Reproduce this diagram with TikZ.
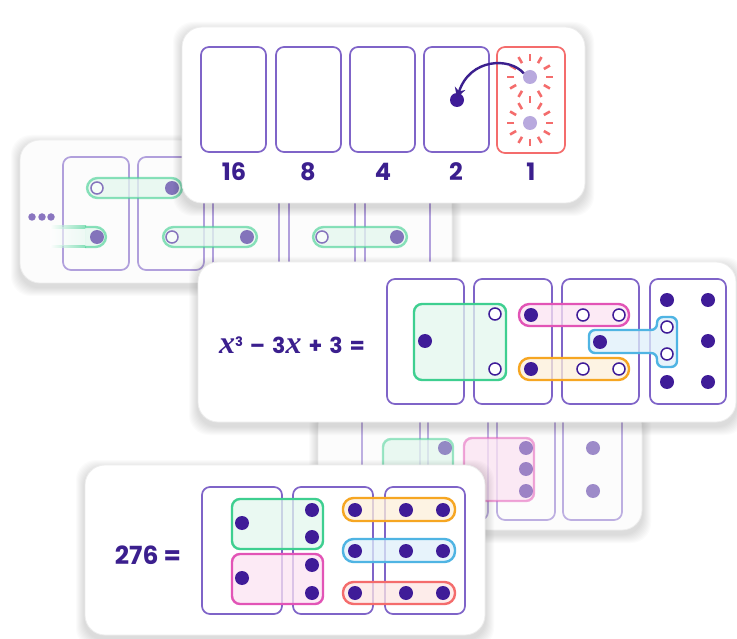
\documentclass[tikz,border=0pt]{standalone}
\usepackage{fontspec}
\setmainfont{Poppins}
\newfontfamily\xfont{Liberation Serif}
\usetikzlibrary{arrows.meta}
\definecolor{dpur}{HTML}{3F1C98}
\definecolor{bpur}{HTML}{7F64C8}
\definecolor{tpur}{HTML}{3B1F8E}
\definecolor{gbord}{HTML}{3ECF90}
\definecolor{gfill}{HTML}{E3F7EE}
\definecolor{pbord}{HTML}{E254B6}
\definecolor{pfill}{HTML}{FBE3F2}
\definecolor{obord}{HTML}{F6A622}
\definecolor{ofill}{HTML}{FDF0DA}
\definecolor{bbord}{HTML}{4FB4E3}
\definecolor{bfill}{HTML}{E0F0FA}
\definecolor{rbord}{HTML}{F46C6C}
\definecolor{rfill}{HTML}{FDE6E3}
\definecolor{ldot}{HTML}{B8A9DE}
\newcommand\cardshadow[4]{%
  \foreach \s in {1,...,9}{\fill[black,opacity=0.015,rounded corners=20pt] (#1-\s,#2-\s+4) rectangle (#3+\s,#4+\s+4);}}
\newcommand\xvar{{\xfont\fontsize{32}{32}\selectfont\bfseries\itshape x}}
\begin{document}
\begin{tikzpicture}[x=1pt,y=-1pt,
  card/.style={fill=white, draw=black!7, line width=0.8pt, rounded corners=20pt},
  box/.style={draw=bpur, line width=1.7pt, rounded corners=8pt},
  dot/.style={circle, fill=dpur, inner sep=0pt, minimum size=14pt},
  odot/.style={circle, draw=dpur, fill=white, line width=1.5pt, inner sep=0pt, minimum size=12pt},
  ldotst/.style={circle, fill=ldot, inner sep=0pt, minimum size=14pt},
  pill/.style={line width=2.4pt, rounded corners=10.5pt, fill opacity=0.75},
  grp/.style={line width=2.4pt, rounded corners=8pt, fill opacity=0.75},
  lbl/.style={text=tpur, font=\fontsize{24}{24}\selectfont\bfseries, inner sep=0pt},
  spark/.style={draw=rbord, line width=2.6pt},
  arr/.style={draw=tpur, line width=2.4pt, -{Stealth[length=10pt,width=11pt]}}
]
\useasboundingbox (0,0) rectangle (737,639);

% ---------------- card 2 (left, faded) ----------------
\cardshadow{20}{140}{452}{283}
\path[card, fill=black!1] (20,140) rectangle (452,283);
\begin{scope}[opacity=0.6]
  \foreach \a/\b in {63/129,138/204,213/279,289/355,365/430}
    \draw[box] (\a,157) rectangle (\b,270);
  \draw[pill, draw=gbord, fill=gfill] (87,178) rectangle (182,198);
  \draw[pill, draw=gbord, fill=gfill] (163,227) rectangle (257,247);
  \draw[pill, draw=gbord, fill=gfill] (313,227) rectangle (407,247);
  \shade[left color=white, right color=gfill] (50,228) rectangle (86,246);
  \shade[left color=white, right color=gbord] (50,226) rectangle (86,228.5);
  \shade[left color=white, right color=gbord] (50,245.5) rectangle (86,248);
  \begin{scope}
    \clip (85,215) rectangle (120,260);
    \draw[pill, draw=gbord, fill=gfill] (60,227) rectangle (106,247);
  \end{scope}
  \node[odot] (c2o1) at (97,188) {};
  \node[dot] (c2d1) at (172,188) {};
  \node[dot] (c2d2) at (97,237) {};
  \node[odot] (c2o2) at (172,237) {};
  \node[dot] (c2d3) at (247,237) {};
  \node[odot] (c2o3) at (322,237) {};
  \node[dot] (c2d4) at (397,237) {};
  \foreach \x [count=\i] in {32,42,51}
    \node[circle, fill=dpur, inner sep=0pt, minimum size=7.5pt] (ell\i) at (\x,217) {};
\end{scope}

% ---------------- card 4 (middle, faded) ----------------
\cardshadow{318}{405}{642}{530}
\path[card, fill=black!1] (318,405) rectangle (642,530);
\begin{scope}[opacity=0.5]
  \foreach \a/\b in {362/420,428/488,497/555,563/622}
    \draw[box] (\a,412) rectangle (\b,520);
  \draw[grp, draw=gbord, fill=gfill] (383,439) rectangle (453,500);
  \draw[grp, draw=pbord, fill=pfill] (464,438) rectangle (534,501);
  \node[dot] (c4d1) at (445,448) {};
  \node[dot] (c4d2) at (526,448) {};
  \node[dot] (c4d3) at (526,469) {};
  \node[dot] (c4d4) at (526,491) {};
  \node[dot] (c4d5) at (593,448) {};
  \node[dot] (c4d6) at (593,491) {};
\end{scope}

% ---------------- card 1 (top) ----------------
\cardshadow{182}{27}{585}{203}
\path[card] (182,27) rectangle (585,203);
\foreach \a/\b in {201/266,276/341,350/415,424/489}
  \draw[box] (\a,47) rectangle (\b,152);
\draw[box, draw=rbord] (497,47) rectangle (565,153);
\node[lbl] (l16) at (234,172) {16};
\node[lbl] (l8) at (308,172) {8};
\node[lbl] (l4) at (383,172) {4};
\node[lbl] (l2) at (456,172) {2};
\node[lbl] (l1) at (531,172) {1};
\foreach \c in {77,123}{
  \foreach \a in {0,30,...,330}{
    \ifnum\c=77 \ifnum\a=90 \else \draw[spark] (530,\c) ++(\a:16) -- ++(\a:7); \fi
    \else \ifnum\a=270 \else \draw[spark] (530,\c) ++(\a:16) -- ++(\a:7); \fi \fi
  }}
\draw[spark] (530,96.5) -- (530,103.5);
\node[ldotst] (lt1) at (530,77) {};
\node[ldotst] (lt2) at (530,123) {};
\node[dot] (tdot) at (457,100) {};
\draw[arr] (lt1.150) .. controls (510,57) and (470,58) .. ([yshift=-5pt]tdot.north);

% ---------------- card 3 (x^3 - 3x + 3) ----------------
\cardshadow{198}{262}{736}{422}
\path[card] (198,262) rectangle (736,422);
\node[text=tpur, font=\fontsize{22}{22}\selectfont\bfseries, inner sep=0pt, anchor=base] (poly) at (292,353)
  {\xvar\raisebox{7pt}{\fontsize{13}{13}\selectfont\bfseries 3}\hspace{7pt}–\hspace{7pt}3\xvar\hspace{7pt}+\hspace{7pt}3\hspace{7pt}=};
\foreach \a/\b in {387/464,474/552,562/639,650/726}
  \draw[box] (\a,279) rectangle (\b,404);
\draw[grp, draw=gbord, fill=gfill] (414,304) rectangle (506,380);
\draw[pill, draw=pbord, fill=pfill] (519,304) rectangle (629,326);
\draw[pill, draw=obord, fill=ofill] (519,358) rectangle (629,380);
\draw[line width=2.4pt, rounded corners=6pt, fill opacity=0.75, draw=bbord, fill=bfill]
  (589,330) -- (657,330) -- (657,317) -- (677,317) -- (677,367) -- (657,367) -- (657,353) -- (589,353) -- cycle;
\node[dot] (g1) at (425,341) {};
\node[odot] (g2) at (495,314) {};
\node[odot] (g3) at (495,369) {};
\node[dot] (p1) at (531,315) {};
\node[odot] (p2) at (583,315) {};
\node[odot] (p3) at (619,315) {};
\node[dot] (o1) at (531,369) {};
\node[odot] (o2) at (583,369) {};
\node[odot] (o3) at (619,369) {};
\node[dot] (b1) at (600,342) {};
\node[odot] (b2) at (667,327) {};
\node[odot] (b3) at (667,354) {};
\node[dot] (q1) at (667,300) {};
\node[dot] (q2) at (708,300) {};
\node[dot] (q3) at (708,341) {};
\node[dot] (q4) at (667,382) {};
\node[dot] (q5) at (708,382) {};

% ---------------- card 5 (276) ----------------
\cardshadow{85}{465}{485}{635}
\path[card] (85,465) rectangle (485,635);
\node[lbl, font=\fontsize{25}{25}\selectfont\bfseries] (n276) at (148,555) {276 =};
\foreach \a/\b in {202/282,293/373,385/465}
  \draw[box] (\a,487) rectangle (\b,614);
\draw[grp, draw=gbord, fill=gfill] (232,499) rectangle (323,549);
\draw[grp, draw=pbord, fill=pfill] (232,554) rectangle (323,604);
\draw[pill, draw=obord, fill=ofill] (343,498) rectangle (455,521);
\draw[pill, draw=bbord, fill=bfill] (343,539) rectangle (455,562);
\draw[pill, draw=rbord, fill=rfill] (343,582) rectangle (455,604);
\node[dot] (e1) at (242,523) {};
\node[dot] (e2) at (312,510) {};
\node[dot] (e3) at (312,537) {};
\node[dot] (e4) at (242,578) {};
\node[dot] (e5) at (312,565) {};
\node[dot] (e6) at (312,593) {};
\foreach \y/\n in {510/o,551/b,593/r}
  \foreach \x [count=\i] in {355,406,443}
    \node[dot] (f\n\i) at (\x,\y) {};
\end{tikzpicture}
\end{document}
